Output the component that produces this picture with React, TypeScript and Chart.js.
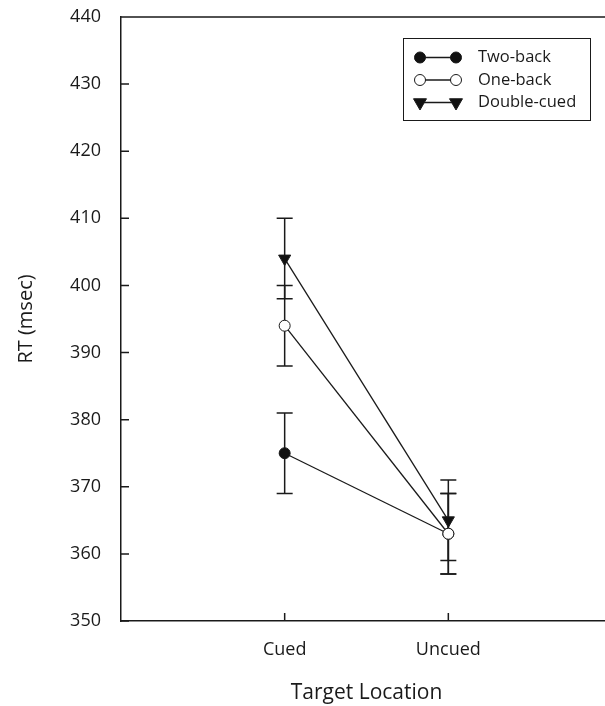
import React, { useEffect, useRef } from 'react';
import { Chart, registerables } from 'chart.js';

Chart.register(...registerables);

// ---- data ----
const categories = ['Cued', 'Uncued'];
const categoryPositions = [1, 2];
const seriesNames = ['Two-back', 'One-back', 'Double-cued'];
const twoBack = [375, 363];
const oneBack = [394, 363];
const doubleCued = [404, 365];
const twoBackErr = [6, 6];
const oneBackErr = [6, 6];
const doubleCuedErr = [6, 6];
const yTickValues = [350, 360, 370, 380, 390, 400, 410, 420, 430, 440];
const yAxisTitle = 'RT (msec)';
const xAxisTitle = 'Target Location';

const FONT = "'Open Sans', 'Noto Sans', sans-serif";
const INK = '#1a1a1a';

const toPoints = (vals: number[]) => vals.map((v, i) => ({ x: categoryPositions[i], y: v }));

const errorBarPlugin = {
  id: 'errorBars',
  beforeDatasetsDraw(chart: any) {
    const ctx = chart.ctx;
    const y = chart.scales.y;
    ctx.save();
    ctx.strokeStyle = INK;
    ctx.lineWidth = 1.5;
    chart.data.datasets.forEach((ds: any, di: number) => {
      const meta = chart.getDatasetMeta(di);
      meta.data.forEach((el: any, i: number) => {
        const v = ds.data[i].y;
        const e = ds.errors[i];
        const px = el.x;
        const top = y.getPixelForValue(v + e);
        const bot = y.getPixelForValue(v - e);
        ctx.beginPath();
        ctx.moveTo(px, top);
        ctx.lineTo(px, bot);
        ctx.moveTo(px - 8, top);
        ctx.lineTo(px + 8, top);
        ctx.moveTo(px - 8, bot);
        ctx.lineTo(px + 8, bot);
        ctx.stroke();
      });
    });
    ctx.restore();
  },
};

const frameTicksPlugin = {
  id: 'frameTicks',
  afterDraw(chart: any) {
    const ctx = chart.ctx;
    const { left, right, top, bottom } = chart.chartArea;
    const xs = chart.scales.x;
    const ys = chart.scales.y;
    ctx.save();
    ctx.strokeStyle = INK;
    ctx.lineWidth = 1.5;
    ctx.beginPath();
    ctx.moveTo(left, top);
    ctx.lineTo(right, top);
    ys.ticks.forEach((t: any) => {
      const py = ys.getPixelForValue(t.value);
      ctx.moveTo(left, py);
      ctx.lineTo(left + 8, py);
    });
    xs.ticks.forEach((t: any) => {
      const px = xs.getPixelForValue(t.value);
      ctx.moveTo(px, bottom);
      ctx.lineTo(px, bottom - 8);
    });
    ctx.stroke();
    ctx.restore();
  },
};

function drawMarker(ctx: CanvasRenderingContext2D, style: string, fill: string, x: number, y: number, r: number) {
  ctx.beginPath();
  if (style === 'triangle') {
    ctx.moveTo(x, y + r);
    ctx.lineTo(x + r * Math.sin((2 * Math.PI) / 3), y - r * 0.5);
    ctx.lineTo(x - r * Math.sin((2 * Math.PI) / 3), y - r * 0.5);
    ctx.closePath();
  } else {
    ctx.arc(x, y, r, 0, Math.PI * 2);
  }
  ctx.fillStyle = fill;
  ctx.fill();
  ctx.stroke();
}

const customLegendPlugin = {
  id: 'customLegend',
  afterDraw(chart: any) {
    const ctx = chart.ctx;
    const { right, top } = chart.chartArea;
    const boxW = 187;
    const boxH = 82;
    const bx = right - 22 - boxW;
    const by = top + 21;
    ctx.save();
    ctx.strokeStyle = INK;
    ctx.lineWidth = 1;
    ctx.strokeRect(bx + 0.5, by + 0.5, boxW, boxH);
    chart.data.datasets.forEach((ds: any, i: number) => {
      const cy = by + 19.5 + i * 22.5;
      const x1 = bx + 17;
      const x2 = bx + 53;
      ctx.strokeStyle = INK;
      ctx.lineWidth = 1.3;
      ctx.beginPath();
      ctx.moveTo(x1, cy);
      ctx.lineTo(x2, cy);
      ctx.stroke();
      const r = ds.pointStyle === 'triangle' ? 7.5 : 5.5;
      ctx.lineWidth = 1;
      drawMarker(ctx, ds.pointStyle, ds.pointBackgroundColor, x1, cy, r);
      drawMarker(ctx, ds.pointStyle, ds.pointBackgroundColor, x2, cy, r);
      ctx.fillStyle = INK;
      ctx.font = `16.5px ${FONT}`;
      ctx.textBaseline = 'middle';
      ctx.textAlign = 'left';
      ctx.fillText(ds.label, bx + 75, cy);
    });
    ctx.restore();
  },
};

export default function App() {
  const ref = useRef<HTMLCanvasElement | null>(null);
  useEffect(() => {
    if (!ref.current) return;
    const mk = (label: string, vals: number[], errs: number[], style: string, fill: string, order: number, rot: number, r: number) => ({
      label,
      data: toPoints(vals),
      errors: errs,
      borderColor: INK,
      borderWidth: 1.3,
      pointStyle: style,
      pointRotation: rot,
      pointRadius: r,
      pointBackgroundColor: fill,
      pointBorderColor: INK,
      pointBorderWidth: 1,
      order,
      fill: false,
      tension: 0,
    });
    const chart = new Chart(ref.current, {
      type: 'line',
      data: {
        datasets: [
          mk(seriesNames[0], twoBack, twoBackErr, 'circle', '#111', 2, 0, 5.5),
          mk(seriesNames[1], oneBack, oneBackErr, 'circle', '#ffffff', 0, 0, 5.5),
          mk(seriesNames[2], doubleCued, doubleCuedErr, 'triangle', '#111', 1, 180, 7),
        ] as any,
      },
      options: {
        animation: false,
        responsive: false,
        layout: { padding: { top: 17, right: 4, left: 0, bottom: 0 } },
        plugins: { legend: { display: false }, tooltip: { enabled: false } },
        scales: {
          x: {
            type: 'linear',
            min: 0,
            max: 3,
            afterBuildTicks: (s: any) => {
              s.ticks = categoryPositions.map((v) => ({ value: v }));
            },
            afterFit: (s: any) => {
              s.height = 85;
              s.paddingLeft = 0;
              s.paddingRight = 0;
            },
            ticks: {
              callback: (v: any) => {
                const idx = categoryPositions.indexOf(Number(v));
                return idx >= 0 ? categories[idx] : '';
              },
              color: INK,
              font: { family: FONT, size: 18 },
              padding: 18,
              maxRotation: 0,
            },
            grid: { display: false, drawTicks: false },
            border: { display: true, color: INK, width: 1.5 },
            title: {
              display: true,
              text: xAxisTitle,
              color: INK,
              font: { family: FONT, size: 21 },
              padding: { top: 0, bottom: 0 },
            },
          },
          y: {
            type: 'linear',
            min: 350,
            max: 440,
            afterBuildTicks: (s: any) => {
              s.ticks = yTickValues.map((v) => ({ value: v }));
            },
            afterFit: (s: any) => {
              s.width = 121;
              s.paddingTop = 0;
              s.paddingBottom = 0;
            },
            ticks: {
              color: INK,
              font: { family: FONT, size: 18 },
              padding: 20,
            },
            grid: { display: false, drawTicks: false },
            border: { display: true, color: INK, width: 1.5 },
            title: {
              display: true,
              text: yAxisTitle,
              color: INK,
              font: { family: FONT, size: 20 },
              padding: { top: 14, bottom: 0 },
            },
          },
        },
      },
      plugins: [errorBarPlugin, frameTicksPlugin, customLegendPlugin],
    });
    return () => chart.destroy();
  }, []);
  return (
    <div style={{ position: 'fixed', left: 0, top: 0, width: 620, height: 706, background: '#fff' }}>
      <canvas ref={ref} width={620} height={706} style={{ width: 620, height: 706, display: 'block' }} />
    </div>
  );
}
